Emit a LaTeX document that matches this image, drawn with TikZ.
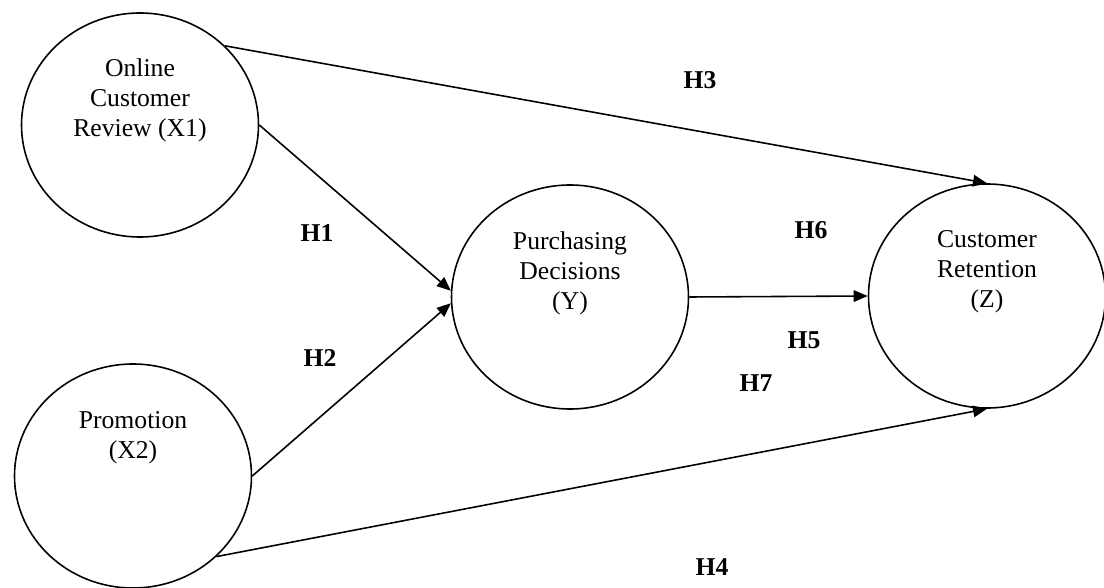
\documentclass[tikz,border=0pt]{standalone}
\usepackage{fontspec}
\setmainfont{Liberation Serif}
\usepackage{tikz}
\usetikzlibrary{positioning, shapes.geometric, arrows.meta}
\tikzset{var/.style = {ellipse,draw,line width=0.9pt,minimum width=4.74cm,minimum height=4.48cm,inner sep=0pt}}
\tikzset{vtext/.style = {align=center,inner sep=0pt,font=\fontsize{14.6}{17}\selectfont}}
\tikzset{hyp/.style = {inner sep=0pt,font=\fontsize{14.6}{17}\selectfont\bfseries}}
\tikzset{link/.style = {-{Triangle[length=0.28cm,width=0.23cm]},line width=0.9pt}}

\begin{document}
\begin{tikzpicture}
        \useasboundingbox (0,0) rectangle (22.08,11.74);
        % variables
        \node[var] (ocr) at (2.80,9.24) {};
        \node[var] (promo) at (2.66,2.22) {};
        \node[var] (pd) at (11.40,5.80) {};
        \node[var] (cr) at (19.74,5.82) {};
        \node[vtext,yshift=0.5cm] (ocr-t) at (ocr) {Online\\Customer\\Review (X1)};
        \node[vtext,yshift=0.76cm] (promo-t) at (promo) {Promotion\\(X2)};
        \node[vtext,yshift=0.48cm] (pd-t) at (pd) {Purchasing\\Decisions\\(Y)};
        \node[vtext,yshift=0.48cm] (cr-t) at (cr) {Customer\\Retention\\(Z)};
        % paths
        \draw[link] (ocr.43) -- (cr.north);
        \draw[link] (ocr.east) -- (pd.177);
        \draw[link] (promo.east) -- (pd.183);
        \draw[link] (pd.east) -- (cr.west);
        \draw[link] (promo.-44) -- (cr.south);
        % hypotheses
        \node[hyp] (h1) at (6.34,7.08) {H1};
        \node[hyp] (h2) at (6.40,4.58) {H2};
        \node[hyp] (h3) at (14.00,10.14) {H3};
        \node[hyp] (h4) at (14.24,0.40) {H4};
        \node[hyp] (h5) at (16.08,4.94) {H5};
        \node[hyp] (h6) at (16.22,7.14) {H6};
        \node[hyp] (h7) at (15.12,4.08) {H7};
\end{tikzpicture}
\end{document}
